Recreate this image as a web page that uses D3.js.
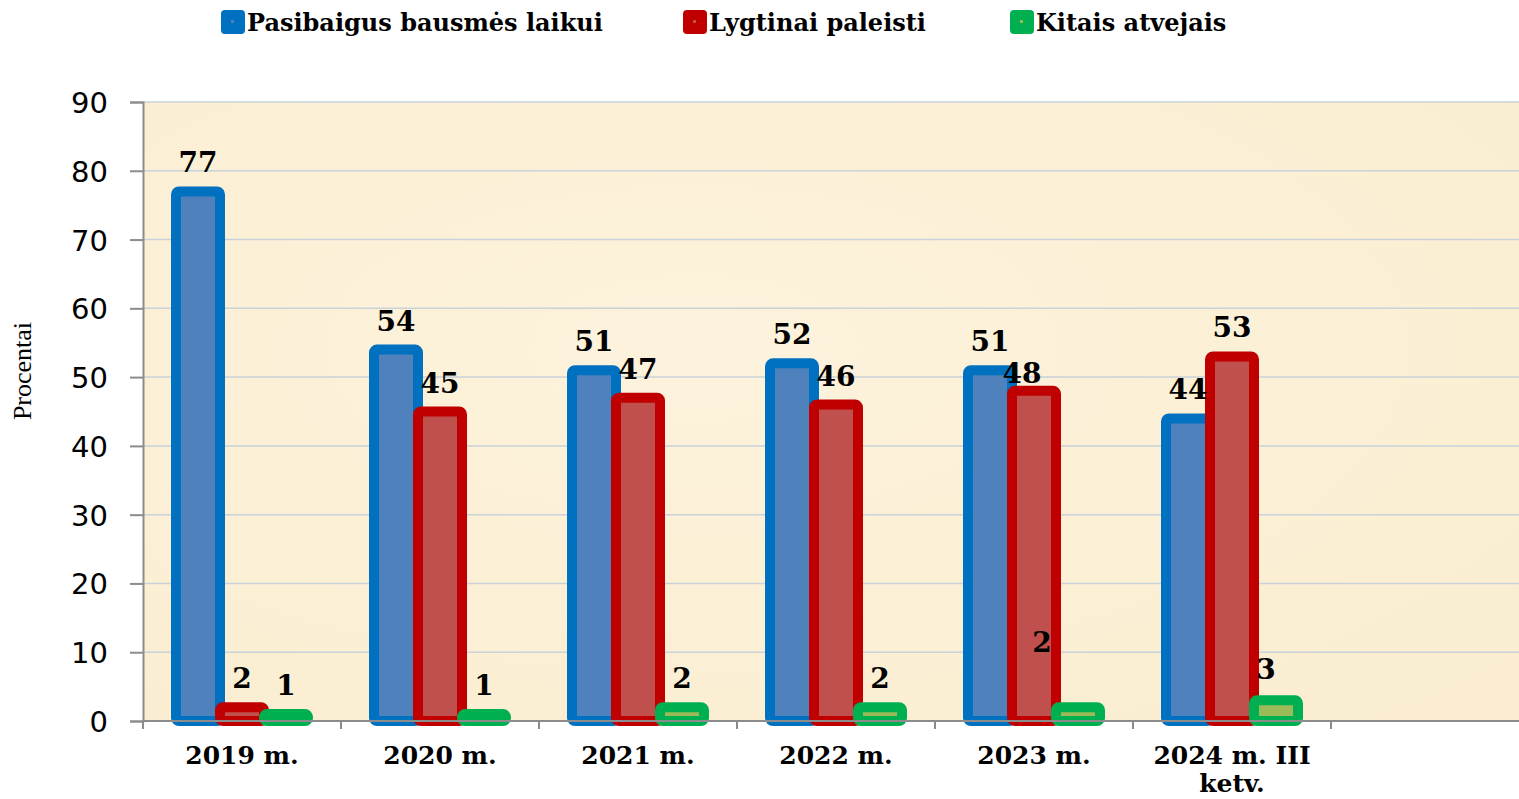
<!DOCTYPE html>
<html>
<head>
<meta charset="utf-8">
<script src="https://cdn.jsdelivr.net/npm/d3@7"></script>
<style>
  body { margin: 0; background: #fff; }
  svg { display: block; }
</style>
</head>
<body>
<div id="chart"></div>
<script>
// chart values
var categories = ["2019 m.", "2020 m.", "2021 m.", "2022 m.", "2023 m.", "2024 m. III ketv."];
var seriesNames = ["Pasibaigus bausmės laikui", "Lygtinai paleisti", "Kitais atvejais"];
var pasibaigus = [77, 54, 51, 52, 51, 44];
var lygtinai = [2, 45, 47, 46, 48, 53];
var kitais = [1, 1, 2, 2, 2, 3];
var yTicks = [0, 10, 20, 30, 40, 50, 60, 70, 80, 90];

(function chart() {
  var width = 1519,
    height = 799;

  var plot = { left: 143, right: 1529, top: 102, bottom: 721 };

  var fills = ["#4f81bd", "#c0504d", "#9bbb59"];
  var strokes = ["#0070c0", "#c00000", "#00b050"];
  var values = [pasibaigus, lygtinai, kitais];

  var svg = d3.select("#chart")
    .append("svg")
    .attr("width", width)
    .attr("height", height);

  // one empty slot on the right, as in the original
  var x = d3.scaleBand()
    .domain(categories.concat(["_"]))
    .range([plot.left, plot.right]);

  var y = d3.scaleLinear()
    .domain([0, 90])
    .range([plot.bottom, plot.top]);

  var barW = 44;
  var x1 = d3.scaleBand()
    .domain([0, 1, 2])
    .range([-barW * 1.5, barW * 1.5]);

  // background
  var defs = svg.append("defs");
  var grad = defs.append("radialGradient").attr("id", "parch")
    .attr("cx", "40%").attr("cy", "40%").attr("r", "80%");
  grad.append("stop").attr("offset", "0%").attr("stop-color", "#fdf2dc");
  grad.append("stop").attr("offset", "100%").attr("stop-color", "#faedd0");

  svg.append("rect")
    .attr("x", plot.left)
    .attr("y", plot.top)
    .attr("width", width - plot.left)
    .attr("height", plot.bottom - plot.top)
    .attr("fill", "url(#parch)");

  // grid
  svg.append("g")
    .selectAll("line")
    .data(yTicks.slice(1))
    .enter()
    .append("line")
    .attr("x1", plot.left)
    .attr("x2", width)
    .attr("y1", function(d) { return y(d); })
    .attr("y2", function(d) { return y(d); })
    .attr("stroke", "#c9d2d9")
    .attr("stroke-width", 1.5);

  // y axis
  var yAxis = svg.append("g")
    .attr("transform", "translate(" + plot.left + ",0)")
    .call(d3.axisLeft(y).tickValues(yTicks).tickSize(13).tickPadding(22));
  yAxis.select(".domain").attr("stroke", "#8c8c8c").attr("stroke-width", 2);
  yAxis.selectAll(".tick line").attr("stroke", "#8c8c8c").attr("stroke-width", 2);
  yAxis.selectAll("text")
    .style("font-family", "'DejaVu Sans', sans-serif")
    .style("font-size", "29px")
    .attr("fill", "#000")
    .attr("dy", "0.36em");

  // bars
  var groups = svg.append("g")
    .selectAll("g")
    .data(categories)
    .enter()
    .append("g")
    .attr("transform", function(d) {
      return "translate(" + (x(d) + x.bandwidth() / 2) + ",0)";
    });

  groups.selectAll("rect")
    .data(function(d, i) {
      return values.map(function(v, s) { return { s: s, v: v[i], c: i }; });
    })
    .enter()
    .append("rect")
    .attr("x", function(d) { return x1(d.s); })
    .attr("y", function(d) { return y(d.v); })
    .attr("width", barW)
    .attr("height", function(d) { return plot.bottom - y(d.v); })
    .attr("rx", 3)
    .attr("fill", function(d) { return fills[d.s]; })
    .attr("stroke", function(d) { return strokes[d.s]; })
    .attr("stroke-width", 10)
    .attr("stroke-linejoin", "round");

  // label nudges (a few labels sit off their bars in the original)
  var nudge = { "4-1": [-12, 11], "4-2": [-36, -36], "5-2": [-10, -2] };

  groups.selectAll("text")
    .data(function(d, i) {
      return values.map(function(v, s) { return { s: s, v: v[i], c: i }; });
    })
    .enter()
    .append("text")
    .attr("x", function(d) {
      var n = nudge[d.c + "-" + d.s];
      return x1(d.s) + barW / 2 + (n ? n[0] : 0);
    })
    .attr("y", function(d) {
      var n = nudge[d.c + "-" + d.s];
      return y(d.v) - 19 + (n ? n[1] : 0);
    })
    .attr("text-anchor", "middle")
    .style("font-family", "'DejaVu Serif', serif")
    .style("font-weight", "bold")
    .style("font-size", "28px")
    .text(function(d) { return d.v; });

  // x axis
  svg.append("line")
    .attr("x1", plot.left).attr("x2", width)
    .attr("y1", plot.bottom).attr("y2", plot.bottom)
    .attr("stroke", "#8c8c8c").attr("stroke-width", 2);

  svg.append("g")
    .selectAll("line")
    .data(categories.concat(["_"]))
    .enter()
    .append("line")
    .attr("x1", function(d) { return x(d); })
    .attr("x2", function(d) { return x(d); })
    .attr("y1", plot.bottom)
    .attr("y2", plot.bottom + 8)
    .attr("stroke", "#8c8c8c").attr("stroke-width", 2);

  var xl = svg.append("g")
    .selectAll("text")
    .data(categories)
    .enter()
    .append("text")
    .attr("x", function(d) { return x(d) + x.bandwidth() / 2; })
    .attr("y", 764)
    .attr("text-anchor", "middle")
    .style("font-family", "'DejaVu Serif', serif")
    .style("font-weight", "bold")
    .style("font-size", "25px");

  xl.each(function(d) {
    var t = d3.select(this);
    var parts = d.indexOf("III") > 0 ? [d.replace(" ketv.", ""), "ketv."] : [d];
    parts.forEach(function(p, i) {
      t.append("tspan")
        .attr("x", x(d) + x.bandwidth() / 2)
        .attr("dy", i === 0 ? 0 : 28)
        .text(p);
    });
  });

  // y title
  svg.append("text")
    .attr("transform", "translate(31,371) rotate(-90)")
    .attr("text-anchor", "middle")
    .style("font-family", "'Liberation Serif', serif")
    .style("font-size", "26px")
    .text("Procentai");

  // legend
  var legendX = [221, 683, 1010];
  var legend = svg.append("g")
    .selectAll("g")
    .data(seriesNames)
    .enter()
    .append("g")
    .attr("transform", function(d, i) { return "translate(" + legendX[i] + ",10)"; });

  legend.append("rect")
    .attr("width", 24)
    .attr("height", 24)
    .attr("rx", 4)
    .attr("fill", function(d, i) { return strokes[i]; });

  legend.append("rect")
    .attr("x", 10).attr("y", 10)
    .attr("width", 3).attr("height", 3)
    .attr("fill", function(d, i) { return fills[i]; });

  legend.append("text")
    .attr("x", 26)
    .attr("y", 21)
    .style("font-family", "'DejaVu Serif', serif")
    .style("font-weight", "bold")
    .style("font-size", "24px")
    .text(function(d) { return d; });
})();
</script>
</body>
</html>
